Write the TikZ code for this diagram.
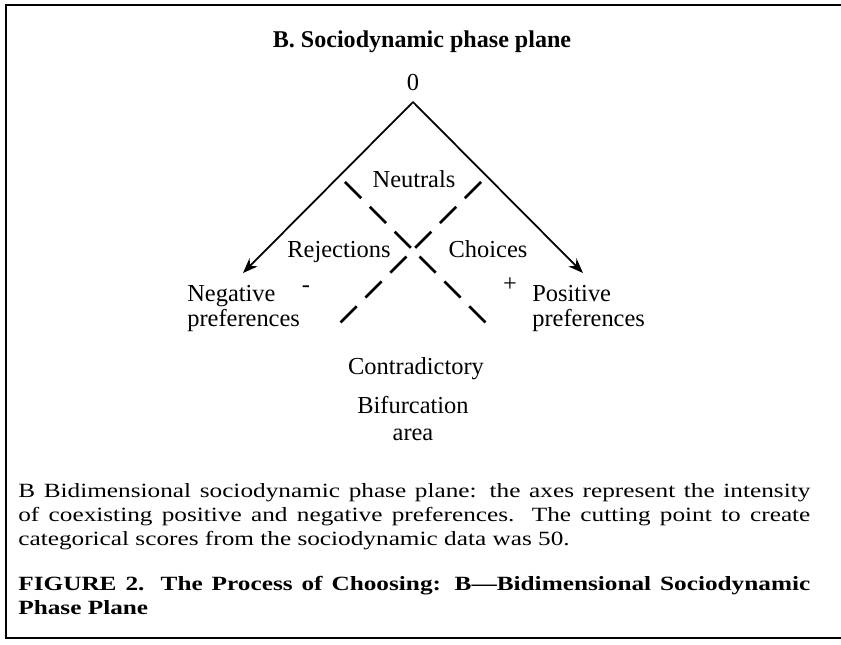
\documentclass[tikz,border=0pt]{standalone}
\usepackage{fontspec}
\setmainfont{Liberation Serif}
\newfontfamily\widefont[FakeStretch=1.25]{Liberation Serif}
\usetikzlibrary{arrows.meta}

\begin{document}
\begin{tikzpicture}[
        label/.style={font=\fontsize{13.9}{14.2}\selectfont, inner sep=0pt},
        axis/.style={line width=1pt, -{Stealth[length=8.5pt,width=6.5pt]}},
        cut/.style={line width=1.5pt, dash pattern=on 13pt off 7pt},
        textblock/.style={font=\widefont\fontsize{11.5}{13.65}\selectfont, text width=15.84cm,
            align=justify, inner sep=0pt, anchor=north west}
    ]
    \useasboundingbox (0,0) rectangle (16.82,12.90);

    % Draw the frame, open on the right
    \draw[line width=1.3pt] (16.82,12.80) -- (0.12,12.80) -- (0.12,0.14) -- (16.82,0.14);

    % Draw the title and the origin 0
    \node[label, font=\bfseries\fontsize{13.7}{16}\selectfont, anchor=base] (title) at (8.44,11.94) {B. Sociodynamic phase plane};
    \node[label, anchor=base] (zero) at (8.26,11.08) {0};

    % Draw the two axes
    \coordinate (origin) at (8.26,10.86);
    \coordinate (negend) at (4.86,7.44);
    \coordinate (posend) at (11.66,7.44);
    \draw[axis] (origin) -- (negend);
    \draw[axis] (origin) -- (posend);

    % Draw the dashed cutting lines
    \coordinate (cutA) at (6.90,9.26);
    \coordinate (cutB) at (9.79,6.37);
    \coordinate (cutC) at (9.62,9.26);
    \coordinate (cutD) at (6.73,6.37);
    \draw[cut] (cutA) -- (cutB);
    \draw[cut] (cutC) -- (cutD);

    % Draw the region labels
    \node[label, anchor=base] (neutrals) at (8.28,9.14) {Neutrals};
    \node[label, anchor=base] (rejections) at (6.78,7.74) {Rejections};
    \node[label, anchor=base] (choices) at (9.76,7.74) {Choices};
    \node[label] (minus) at (6.12,7.12) {-};
    \node[label] (plus) at (10.20,7.20) {+};

    % Draw the axis labels
    \node[label, align=left, anchor=north west] (negative) at (3.74,7.20) {Negative\\preferences};
    \node[label, align=left, anchor=north west] (positive) at (10.64,7.20) {Positive\\preferences};

    % Draw the bifurcation area
    \node[label, anchor=base] (contradictory) at (8.32,5.40) {Contradictory};
    \node[label, font=\fontsize{13.9}{15.2}\selectfont, align=center, anchor=north] (bifurcation) at (8.26,4.98) {Bifurcation\\area};

    % Draw the legend and the figure caption
    \node[textblock] (legend) at (0.36,3.24) {B Bidimensional sociodynamic phase plane: the axes represent the intensity\linebreak
        of coexisting positive and negative preferences. The cutting point to create\linebreak
        categorical scores from the sociodynamic data was 50.};
    \node[textblock, font=\widefont\bfseries\fontsize{11.5}{13.65}\selectfont] (figcaption) at (0.36,1.38) {FIGURE 2. The Process of Choosing: B—Bidimensional Sociodynamic\linebreak
        Phase Plane};
\end{tikzpicture}
\end{document}
